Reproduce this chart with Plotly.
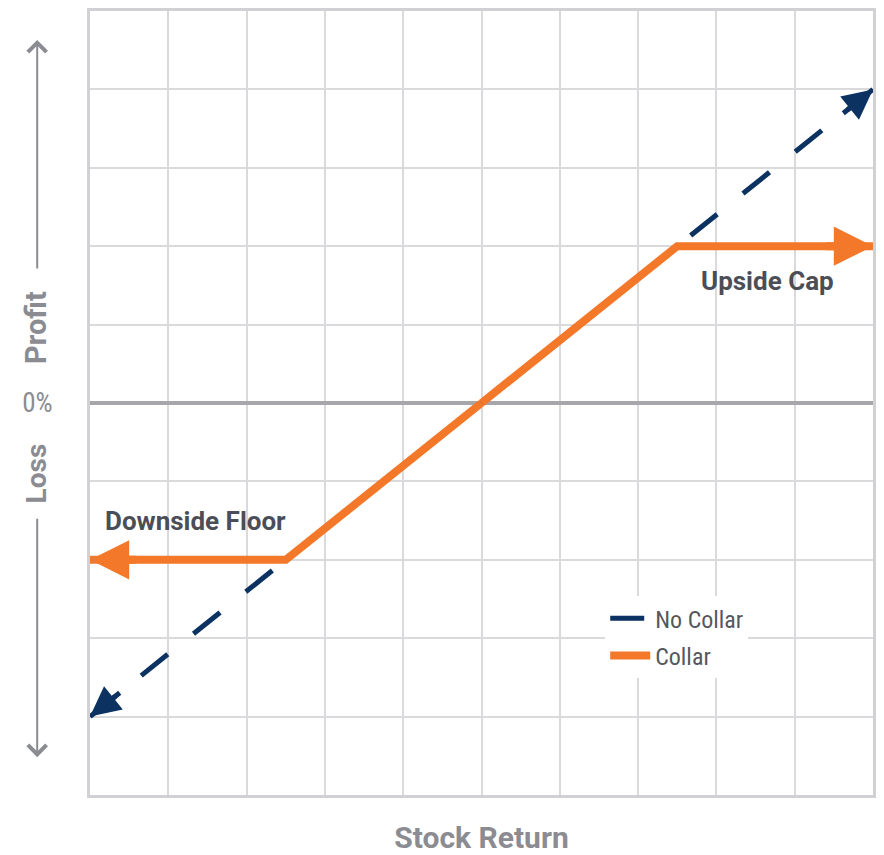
import math
import plotly.graph_objects as go

# Payoff at expiry, in grid units: stock return (x) against profit / loss (y)
no_collar_x = [-5, 5]
no_collar_y = [-4, 4]
collar_x = [-5, -2.5, 2.5, 5]
collar_y = [-2, -2, 2, 2]
series_names = ["No Collar", "Collar"]

x_range = [-5, 5]
y_range = [-5, 5]
grid_vals = list(range(-5, 6))
y_tick_text = ["0%" if v == 0 else "" for v in grid_vals]

W, H = 884, 855
M_L, M_R, M_T, M_B = 90, 8, 8, 60
PLOT_W = W - M_L - M_R
PLOT_H = H - M_T - M_B
SX = PLOT_W / (x_range[1] - x_range[0])
SY = PLOT_H / (y_range[1] - y_range[0])

NAVY = "#0b3261"
ORANGE = "#f4782a"
AXIS_GREY = "#8b8c92"
LABEL_DARK = "#4b4e56"
BOLD_FONT = "Roboto, sans-serif"
NARROW_FONT = "Roboto Condensed, Roboto, sans-serif"


def outward_runs(xs, ys):
    """Split a polyline at its middle into two runs heading outwards.

    Both outer ends then sit at the end of a run, so the line can be trimmed
    there and capped with an arrowhead."""
    k = len(xs) // 2
    mx = (xs[k - 1] + xs[k]) / 2
    my = (ys[k - 1] + ys[k]) / 2
    left_x, left_y = [mx] + xs[:k][::-1], [my] + ys[:k][::-1]
    right_x, right_y = [mx] + xs[k:], [my] + ys[k:]
    px = left_x + [None] + right_x
    py = left_y + [None] + right_y
    ends = {len(left_x) - 1, len(px) - 1}
    return px, py, ends


def arrowhead(xs, ys, i_end, i_prev, color, width, size, tail):
    """Annotation arrowhead whose tip sits on a line end, aligned with the last segment."""
    dx = (xs[i_end] - xs[i_prev]) * SX
    dy = (ys[i_end] - ys[i_prev]) * SY
    n = math.hypot(dx, dy)
    return dict(x=xs[i_end], y=ys[i_end], xref="x", yref="y", text="",
                showarrow=True, arrowhead=2, arrowsize=size, arrowwidth=width,
                arrowcolor=color, ax=-dx / n * tail, ay=dy / n * tail, standoff=0)


series = [
    (series_names[0], no_collar_x, no_collar_y, NAVY, 5, "34px,33px", 1.2, 40),
    (series_names[1], collar_x, collar_y, ORANGE, 8, "solid", 0.98, 48),
]

fig = go.Figure()
annotations = []
for name, xs, ys, color, width, dash, head, tail in series:
    px, py, ends = outward_runs(xs, ys)
    trim = width * 1.8
    fig.add_trace(go.Scatter(
        x=px, y=py, mode="lines", name=name, legendgroup=name,
        connectgaps=False, hoverinfo="skip",
        line=dict(color=color, width=width, dash=dash,
                  backoff=[trim if i in ends else 0 for i in range(len(px))]),
    ))
    annotations.append(arrowhead(xs, ys, 0, 1, color, width, head, tail))
    annotations.append(arrowhead(xs, ys, -1, -2, color, width, head, tail))

label_x = (36 - M_L) / PLOT_W

annotations += [
    dict(text="<b>Upside Cap</b>", x=3.65, y=collar_y[-1] - 0.45, xref="x", yref="y",
         showarrow=False, font=dict(size=26, color=LABEL_DARK, family=BOLD_FONT)),
    dict(text="<b>Downside Floor</b>", x=-3.65, y=collar_y[0] + 0.5, xref="x", yref="y",
         showarrow=False, font=dict(size=26, color=LABEL_DARK, family=BOLD_FONT)),
    dict(text="<b>Profit</b>", x=label_x, y=(H - M_B - 326) / PLOT_H, xref="paper", yref="paper",
         xanchor="center", yanchor="middle",
         textangle=-90, showarrow=False, font=dict(size=29, color=AXIS_GREY, family=BOLD_FONT)),
    dict(text="<b>Loss</b>", x=label_x, y=(H - M_B - 472) / PLOT_H, xref="paper", yref="paper",
         xanchor="center", yanchor="middle",
         textangle=-90, showarrow=False, font=dict(size=28, color=AXIS_GREY, family=BOLD_FONT)),
    # Vertical direction arrows beside the profit / loss labels
    dict(text="", x=(37 - M_L) / PLOT_W, y=(H - M_B - 37) / PLOT_H, xref="paper", yref="paper",
         showarrow=True, ax=0, ay=230, arrowhead=4, arrowsize=1.8, arrowwidth=2,
         arrowcolor=AXIS_GREY),
    dict(text="", x=(37 - M_L) / PLOT_W, y=(H - M_B - 757) / PLOT_H, xref="paper", yref="paper",
         showarrow=True, ax=0, ay=-240, arrowhead=4, arrowsize=1.8, arrowwidth=2,
         arrowcolor=AXIS_GREY),
]

fig.update_layout(
    width=W, height=H,
    margin=dict(l=M_L, r=M_R, t=M_T, b=M_B),
    paper_bgcolor="white", plot_bgcolor="white",
    font=dict(family=NARROW_FONT, color=AXIS_GREY),
    showlegend=True,
    legend=dict(x=0.658, y=0.2535, xanchor="left", yanchor="top",
                bgcolor="white", borderwidth=0, itemwidth=40,
                font=dict(size=24, color="#55575e", family=NARROW_FONT),
                tracegroupgap=3),
    annotations=annotations,
)

fig.update_xaxes(
    range=x_range, tickmode="array", tickvals=grid_vals, showticklabels=False,
    showgrid=True, gridcolor="#dadadd", gridwidth=2, zeroline=False,
    showline=True, linecolor="#d0d0d5", linewidth=3, mirror=True, ticks="",
    title=dict(text="<b>Stock Return</b>", standoff=30,
               font=dict(size=30, color=AXIS_GREY, family=BOLD_FONT)),
)
fig.update_yaxes(
    range=y_range, tickmode="array", tickvals=grid_vals, ticktext=y_tick_text,
    showgrid=True, gridcolor="#dadadd", gridwidth=2,
    zeroline=True, zerolinecolor="#a7a7ab", zerolinewidth=4,
    showline=True, linecolor="#d0d0d5", linewidth=3, mirror=True, ticks="",
    ticklabelstandoff=29, tickfont=dict(size=27, color=AXIS_GREY, family=NARROW_FONT),
)

fig.write_html("out.html")
